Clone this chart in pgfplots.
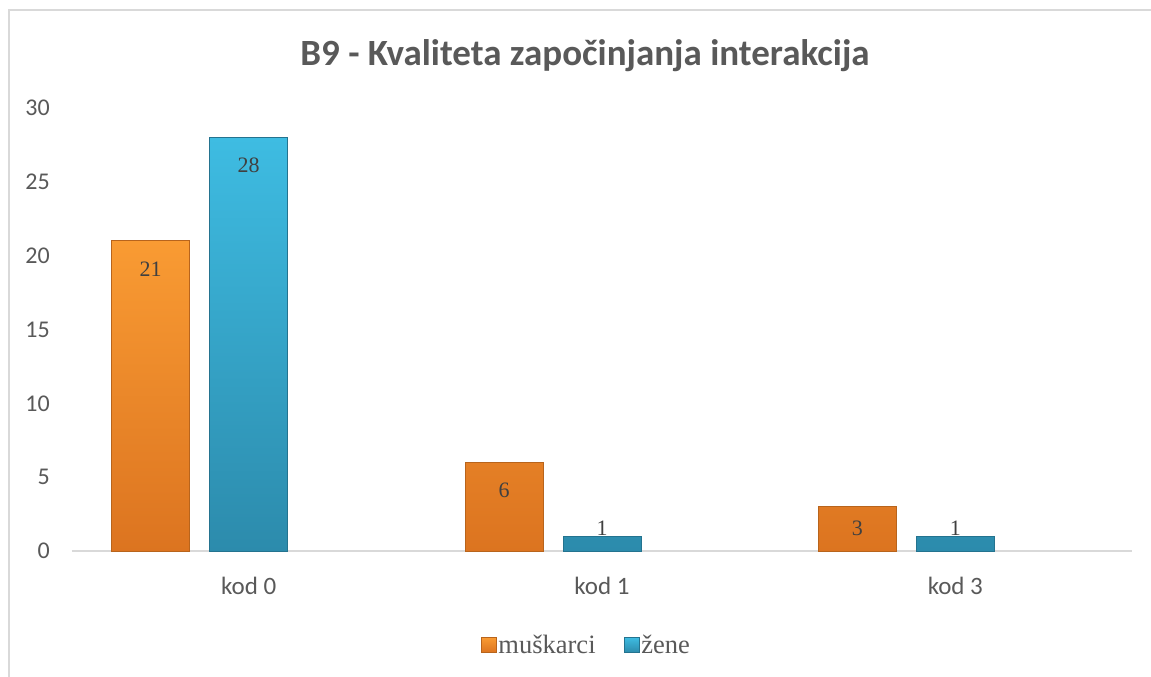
\documentclass[border=0pt]{standalone}
\usepackage{pgfplots}
\pgfplotsset{compat=1.18}
\usepackage{fontspec}
\setmainfont{Liberation Serif}
\newfontfamily\carlito{Carlito}
\definecolor{txt}{HTML}{595959}
\definecolor{lbl}{HTML}{404040}
\definecolor{bordc}{HTML}{D9D9D9}
\definecolor{orgT}{HTML}{F99B33}
\definecolor{orgB}{HTML}{DC7420}
\definecolor{orgE}{HTML}{B8641C}
\definecolor{bluT}{HTML}{3EBCE2}
\definecolor{bluB}{HTML}{2C8BAC}
\definecolor{bluE}{HTML}{24738F}
\begin{document}
\begin{tikzpicture}[x=1pt,y=1pt]
\useasboundingbox (0,0) rectangle (1151,677);
\draw[color=bordc, line width=2pt] (9,-5) -- (9,667) -- (1160,667);
\node[font=\carlito\bfseries\fontsize{37}{37}\selectfont, text=txt, anchor=base] at (585,611) {B9 - Kvaliteta započinjanja interakcija};
\begin{axis}[
  at={(72pt,126pt)}, anchor=south west, scale only axis,
  width=1060pt, height=443pt,
  xmin=-0.5, xmax=2.5, ymin=0, ymax=30,
  ytick={0,5,...,30},
  xtick={0,1,2}, xticklabels={kod 0,kod 1,kod 3},
  axis x line*=bottom, axis y line*=left,
  y axis line style={draw=none},
  x axis line style={bordc, line width=2pt},
  major tick length=0pt,
  /pgf/number format/assume math mode=true,
  yticklabel style={font=\carlito\fontsize{24}{24}\selectfont, text=txt, anchor=east, inner sep=0pt, xshift=-22pt},
  xticklabel style={font=\carlito\fontsize{25}{25}\selectfont, text=txt, anchor=base, inner sep=0pt, yshift=-44pt},
  clip=false,
  legend style={at={(0.4852,-0.212)}, anchor=center, draw=none, fill=none,
    legend columns=2, font=\fontsize{26.5}{26.5}\selectfont, text=txt,
    /tikz/every even column/.style={column sep=26pt}},
]
\addplot[ybar, bar width=78pt, bar shift=-98pt, draw=orgE, line width=0.8pt,
  top color=orgT, bottom color=orgB,
  visualization depends on={rawy \as \rawy},
  nodes near coords,
  every node near coord/.append style={anchor=center, font=\fontsize{22}{22}\selectfont, text=lbl, xshift=-98pt, yshift={max(-28pt,23pt-14.767pt*\rawy)}},
  legend image code/.code={\path[draw=orgE, top color=orgT, bottom color=orgB] (-2pt,-7.5pt) rectangle (13pt,7.5pt);}
] coordinates {(0,21) (1,6) (2,3)};
\addlegendentry{muškarci}
\addplot[ybar, bar width=78pt, bar shift=0pt, draw=bluE, line width=0.8pt,
  top color=bluT, bottom color=bluB,
  visualization depends on={rawy \as \rawy},
  nodes near coords,
  every node near coord/.append style={anchor=center, font=\fontsize{22}{22}\selectfont, text=lbl, yshift={max(-28pt,23pt-14.767pt*\rawy)}},
  legend image code/.code={\path[draw=bluE, top color=bluT, bottom color=bluB] (-2pt,-7.5pt) rectangle (13pt,7.5pt);}
] coordinates {(0,28) (1,1) (2,1)};
\addlegendentry{žene}
\end{axis}
\end{tikzpicture}
\end{document}
